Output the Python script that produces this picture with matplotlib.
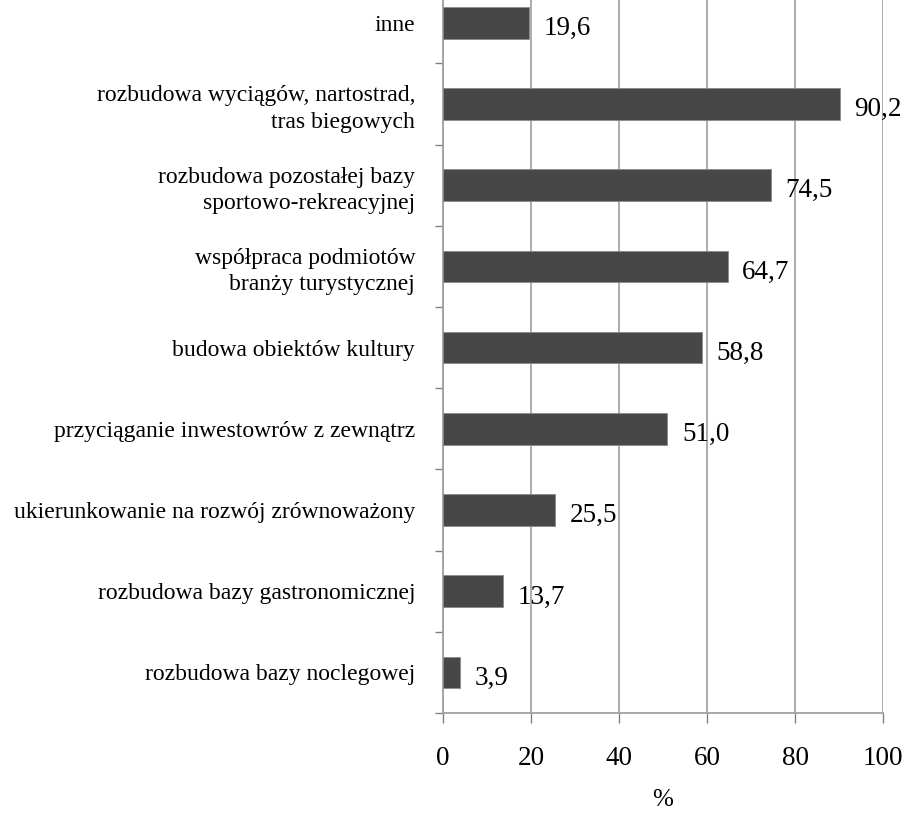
import matplotlib
matplotlib.use('Agg')
import matplotlib.pyplot as plt
import numpy as np

plt.rcParams['font.family'] = ['Liberation Serif', 'DejaVu Serif']

# bottom to top, as in the chart
categories = [
    'rozbudowa bazy noclegowej',
    'rozbudowa bazy gastronomicznej',
    'ukierunkowanie na rozwój zrównoważony',
    'przyciąganie inwestowrów z zewnątrz',
    'budowa obiektów kultury',
    'współpraca podmiotów\nbranży turystycznej',
    'rozbudowa pozostałej bazy\nsportowo-rekreacyjnej',
    'rozbudowa wyciągów, nartostrad,\ntras biegowych',
    'inne',
]
values = [3.9, 13.7, 25.5, 51.0, 58.8, 64.7, 74.5, 90.2, 19.6]
x_ticks = [0, 20, 40, 60, 80, 100]

fig = plt.figure(figsize=(9.05, 8.14), dpi=100)
# top of the plot area sits just above the picture, as in the reference
ax = fig.add_axes([0.4895, 0.124, 0.4862, 0.898])

ypos = np.arange(len(categories))
ax.barh(ypos, values, height=0.39, color='#474747', edgecolor='#8a8a8a', linewidth=0.6, zorder=3)

for y, v in zip(ypos, values):
    ax.text(v + 3.3, y - 0.07, f'{v:.1f}'.replace('.', ','), va='center', ha='left', fontsize=19.5, zorder=4)

ax.set_xlim(0, 100)
ax.set_ylim(-0.5, len(categories) - 0.5)
ax.set_xticks(x_ticks)
ax.set_xticklabels([str(t) for t in x_ticks], fontsize=19.5)
ax.set_yticks(ypos)
ax.set_yticklabels(categories, fontsize=17, ha='right', multialignment='right', linespacing=1.35)
ax.set_yticks(np.arange(len(categories) + 1) - 0.5, minor=True)

ax.tick_params(axis='y', which='major', length=0, pad=20)
ax.tick_params(axis='y', which='minor', length=6, width=1, color='#808080')
ax.tick_params(axis='x', length=7, width=1, color='#808080', pad=17)

ax.xaxis.grid(True, color='#a6a6a6', linewidth=1.3, zorder=0)
ax.set_axisbelow(True)

for side in ['top', 'right']:
    ax.spines[side].set_visible(False)
for side in ['left', 'bottom']:
    ax.spines[side].set_color('#a0a0a0')
    ax.spines[side].set_linewidth(1.3)

ax.set_xlabel('%', fontsize=18, labelpad=13)

fig.savefig('out.png', dpi=100)
